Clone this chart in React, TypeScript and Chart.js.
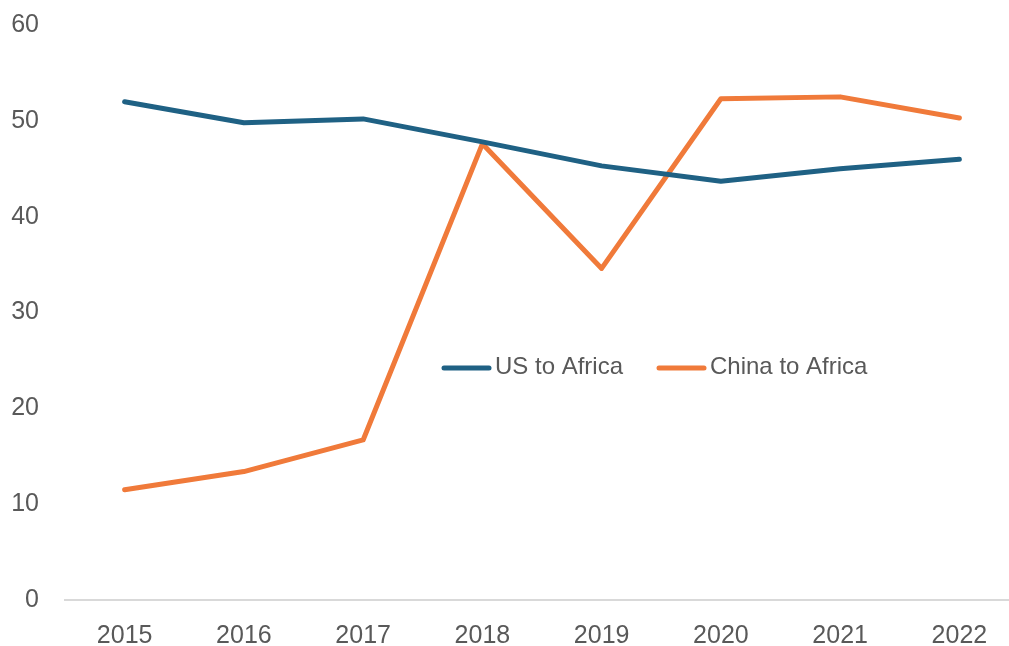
import React, { useEffect, useRef } from "react";
import { Chart, registerables } from "chart.js";

Chart.register(...registerables);

const years = ["2015", "2016", "2017", "2018", "2019", "2020", "2021", "2022"];
const usToAfrica = [52.0, 49.8, 50.2, 47.8, 45.3, 43.7, 45.0, 46.0];
const chinaToAfrica = [11.5, 13.4, 16.7, 47.6, 34.6, 52.3, 52.5, 50.3];
const seriesNames = ["US to Africa", "China to Africa"];
const seriesColors = ["#1F6184", "#F07A3A"];

const textColor = "#595959";
const fontFamily = "'Liberation Sans', Arial, sans-serif";

const middleLegend = {
  id: "middleLegend",
  afterDraw(chart: any) {
    const ctx = chart.ctx;
    const items = [
      { x: 444, label: seriesNames[0], color: seriesColors[0] },
      { x: 659, label: seriesNames[1], color: seriesColors[1] },
    ];
    const y = 367;
    ctx.save();
    ctx.font = `24px ${fontFamily}`;
    ctx.textBaseline = "middle";
    ctx.textAlign = "left";
    items.forEach((it) => {
      ctx.strokeStyle = it.color;
      ctx.lineWidth = 5;
      ctx.lineCap = "round";
      ctx.beginPath();
      ctx.moveTo(it.x, y + 1);
      ctx.lineTo(it.x + 45, y + 1);
      ctx.stroke();
      ctx.fillStyle = textColor;
      ctx.fillText(it.label, it.x + 51, y);
    });
    ctx.restore();
  },
};

export default function App() {
  const ref = useRef<HTMLCanvasElement | null>(null);
  useEffect(() => {
    if (!ref.current) return;
    const chart = new Chart(ref.current, {
      type: "line",
      data: {
        labels: years,
        datasets: [
          {
            label: seriesNames[0],
            data: usToAfrica,
            borderColor: seriesColors[0],
            backgroundColor: seriesColors[0],
            borderWidth: 5,
            pointRadius: 0,
            borderCapStyle: "round",
            borderJoinStyle: "round",
            tension: 0,
          },
          {
            label: seriesNames[1],
            data: chinaToAfrica,
            borderColor: seriesColors[1],
            backgroundColor: seriesColors[1],
            borderWidth: 5,
            pointRadius: 0,
            borderCapStyle: "round",
            borderJoinStyle: "round",
            tension: 0,
          },
        ],
      },
      options: {
        animation: false,
        responsive: false,
        maintainAspectRatio: false,
        layout: { padding: { top: 25, right: 5, left: 0, bottom: 0 } },
        plugins: {
          legend: { display: false },
          tooltip: { enabled: false },
        },
        scales: {
          x: {
            offset: true,
            grid: { display: false },
            border: { display: true, color: "#D9D9D9", width: 2 },
            ticks: {
              color: textColor,
              font: { family: fontFamily, size: 25 },
              padding: 13,
              maxRotation: 0,
            },
            afterFit: (s: any) => {
              s.height = 46;
            },
          },
          y: {
            min: 0,
            max: 60,
            grid: { display: false },
            border: { display: false },
            ticks: {
              stepSize: 10,
              color: textColor,
              font: { family: fontFamily, size: 25 },
              padding: 18,
            },
            afterFit: (s: any) => {
              s.width = 65;
              s.paddingTop = 0;
              s.paddingBottom = 0;
            },
          },
        },
      },
      plugins: [middleLegend],
    });
    return () => chart.destroy();
  }, []);
  return (
    <div style={{ position: "absolute", left: 0, top: 0, width: 1009, height: 646, overflow: "hidden", background: "#fff" }}>
      <canvas ref={ref} width={1024} height={646} style={{ width: 1024, height: 646, display: "block" }} />
    </div>
  );
}
